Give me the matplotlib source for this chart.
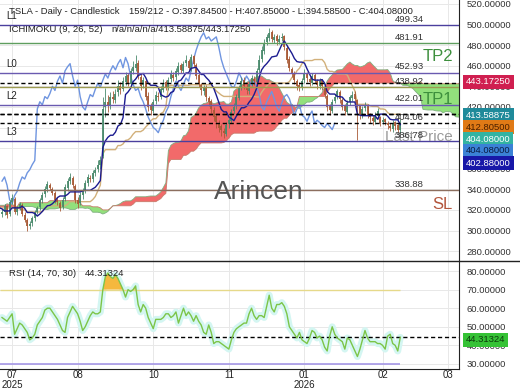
import matplotlib
matplotlib.use("Agg")

import matplotlib.pyplot as plt
import numpy as np
from matplotlib.lines import Line2D
from matplotlib.ticker import FormatStrFormatter

plt.rcParams["font.family"] = ["Liberation Sans", "DejaVu Sans"]

# Price history before the visible window (only needed for the cloud)

pre_high = [
    330, 336, 334, 328, 322, 316, 310, 306, 312, 320,
    328, 334, 340, 345, 342, 336, 330, 324, 318, 312,
    318, 326, 332, 338, 336, 330,
    334, 340, 346, 350, 354, 356, 352, 346, 340, 334,
    330, 336, 342, 346, 344, 338, 332, 326, 322, 318,
    322, 328, 334, 338, 336, 332,
    330, 326, 322, 318, 324, 330, 336, 340, 338, 334,
    328, 322, 318, 314, 320, 326, 332, 336, 334, 330,
    326, 322, 326, 330, 326, 322]

pre_low = [
    318, 322, 322, 314, 308, 300, 294, 290, 298, 306,
    314, 320, 326, 330, 328, 322, 316, 310, 304, 298,
    304, 312, 318, 324, 322, 316,
    320, 326, 332, 336, 340, 342, 338, 332, 326, 320,
    316, 322, 328, 332, 330, 324, 318, 312, 306, 302,
    308, 314, 320, 324, 322, 318,
    316, 312, 308, 305, 310, 316, 322, 326, 324, 320,
    314, 308, 305, 304, 306, 312, 318, 322, 320, 316,
    312, 308, 312, 316, 312, 309]

# Visible daily candles

opens = [
    316, 318, 324, 316, 328, 331, 318, 322, 325, 315,
    310, 304, 307, 312, 318, 323, 330, 335, 340, 344,
    340, 336, 330, 327, 323, 331, 341, 348, 351, 343,
    330, 327, 334, 339, 346, 351, 350, 356, 360, 364,
    372, 420, 425, 421, 430, 427, 434, 440, 437, 444,
    451, 442, 455, 458, 463, 449, 441, 445, 431, 421,
    416, 426, 431, 430, 436, 444, 438, 447, 451, 449,
    454, 461, 455, 463, 465, 457, 469, 461, 451, 441,
    435, 439, 429, 426, 417, 411, 404, 401, 397, 394,
    403, 406, 416, 421, 429, 439, 446, 439, 435, 443,
    447, 444, 456, 467, 474, 483, 487, 493, 485, 489,
    483, 487, 489, 477, 467, 457, 453, 445, 441, 438,
    446, 452, 447, 443, 451, 445, 440, 446, 439, 431,
    421, 416, 426, 431, 434, 427, 421, 415, 425, 429,
    433, 427, 421, 411, 419, 421, 411, 409, 405, 411,
    410, 405, 408, 404, 401, 399, 405, 402, 397.845]

highs = [
    321, 326, 325, 330, 335, 333, 324, 328, 327, 318,
    312, 309, 314, 320, 324, 332, 337, 343, 348, 346,
    342, 338, 333, 329, 333, 345, 351, 356, 353, 345,
    333, 337, 341, 349, 355, 354, 359, 362, 368, 372,
    430, 438, 432, 434, 435, 437, 446, 444, 449, 454,
    453, 458, 465, 470, 466, 452, 449, 447, 434, 424,
    428, 435, 434, 440, 447, 446, 449, 456, 454, 458,
    464, 463, 465, 470, 467, 471, 470, 463, 453, 443,
    441, 441, 431, 428, 420, 413, 407, 403, 400, 405,
    410, 418, 424, 433, 441, 449, 449, 442, 445, 451,
    450, 458, 470, 479, 486, 491, 497, 495, 491, 491,
    490, 492, 490, 479, 469, 459, 455, 447, 444, 448,
    457, 454, 449, 453, 453, 447, 448, 447, 441, 433,
    423, 428, 433, 437.6, 436, 429, 423, 427, 432, 435,
    435, 428, 422, 421, 425, 423, 414, 412, 415, 419,
    411, 410, 409, 406, 404, 407, 406, 404, 407.85]

lows = [
    313, 315, 312, 314, 326, 316, 315, 320, 314, 308,
    300, 301, 304, 309, 316, 320, 327, 333, 337, 339,
    334, 327, 325, 319, 321, 329, 338, 345, 341, 327,
    322, 325, 331, 336, 343, 347, 347, 353, 357, 360,
    370, 410, 415, 418, 424, 424, 431, 433, 435, 441,
    440, 440, 452, 455, 447, 436, 438, 427, 416, 412,
    414, 423, 426, 428, 434, 436, 436, 444, 445, 446,
    451, 453, 453, 460, 455, 455, 459, 447, 439, 432,
    432, 426, 421, 414, 406, 400, 396, 392, 389.35, 392,
    400, 404, 413, 418, 427, 436, 437, 433, 433, 440,
    441, 442, 453, 464, 471, 480, 484, 483, 482, 480,
    481, 484, 475, 463, 455, 449, 442, 436, 435, 436,
    443, 444, 440, 441, 443, 437, 437, 436, 429, 416,
    412, 414, 424, 428, 424, 417, 412, 413, 422, 426,
    424, 388, 408, 409, 416, 409, 404, 402, 403, 408,
    401, 403, 402, 399, 397, 396, 398, 396, 394.585]

closes = [
    318, 324, 315, 328, 332, 318, 322, 326, 316, 310,
    304, 306, 312, 318, 322, 330, 334, 340, 345, 341,
    336, 330, 328, 322, 330, 342, 348, 352, 344, 330,
    326, 334, 338, 346, 352, 350, 356, 359, 364, 368,
    418, 425, 422, 430, 428, 433, 440, 436, 445, 450,
    443, 455, 459, 462, 450, 440, 446, 430, 420, 417,
    425, 432, 430, 437, 443, 439, 446, 452, 448, 455,
    460, 456, 462, 466, 458, 468, 462, 450, 442, 436,
    438, 430, 425, 418, 410, 405, 400, 398, 395, 402,
    407, 415, 420, 430, 438, 445, 440, 436, 442, 448,
    445, 455, 466, 475, 482, 488, 492, 486, 488, 484,
    486, 488, 478, 466, 458, 452, 446, 440, 439, 445,
    453, 448, 444, 450, 446, 441, 445, 440, 432, 420,
    417, 425, 430, 435, 428, 420, 416, 424, 430, 432,
    428, 420, 412, 418, 422, 412, 410, 406, 412, 416,
    404, 407, 405, 402, 400, 404, 401, 398, 404.08]

rsi = [
    55, 54, 53, 55, 57, 46, 49, 52, 51, 49,
    47, 43, 44, 46, 51, 53, 55, 59, 60, 60,
    58, 56, 54, 51, 48, 47, 55, 58, 61, 59,
    57, 53, 48, 50, 53, 56, 58, 57, 57, 58,
    70, 77, 79, 77, 76, 78, 76, 73, 70, 66,
    70, 69, 70, 72, 62, 58, 62, 60, 55, 52,
    49, 54, 54, 54, 55, 57, 57, 55, 56, 58,
    52, 56, 60, 56, 58, 56, 53, 56, 53, 51,
    47, 46, 51, 47, 41, 42, 42, 41, 40, 39,
    38, 43, 47, 49, 50, 51, 52, 52, 57, 60,
    56, 54, 56, 56, 55, 61, 67, 60, 58, 62,
    62, 63, 61, 57, 50, 48, 46, 44, 47, 43,
    42, 41, 44, 48, 47, 44, 45, 43, 39, 37,
    45, 50, 46, 44, 43, 42, 38, 44, 43, 40,
    37, 34, 38, 43, 48, 44, 42, 42, 42, 41,
    41, 40, 38, 45, 46, 41, 40, 37, 44.31324]

month_bars = [4, 30, 60, 90, 120, 151, 177]
month_labels = ["07\n2025", "08", "10", "11", "01\n2026", "02", "03"]

level_prices = [499.34, 481.91, 452.93, 438.92, 422.01, 386.78, 338.88]
level_colors = ["#4b3f9e", "#5e9e5e", "#6a5ab0", "#9c9a50",
                "#6a5ab0", "#4b3f9e", "#8c6e5e"]
level_tags = ["L1", "", "L0", "", "L2", "L3", ""]

current_lines = [443.1725, 413.58875, 412.805, 404.06]

value_tags = ["443.17250", "413.58875", "412.80500",
              "404.08000", "404.08000", "402.88000"]
tag_bg = ["#d01f50", "#1f8a9a", "#e07a16", "#33b3a2", "#3b82d6", "#1818a8"]
tag_fg = ["white", "white", "#4a2000", "white", "#0b1d44", "white"]

rsi_last = 44.31324

W, H = 520, 390


def fx(px):
    return px / W


def fy(py):
    return 1 - py / H


fig = plt.figure(figsize=(5.2, 3.9), dpi=100)

ax = fig.add_axes([0, fy(261), fx(459), fy(0) - fy(261)])
ax2 = fig.add_axes([0, fy(369), fx(459), fy(261) - fy(369)])

o = np.array(opens, float)
h = np.array(highs, float)
l = np.array(lows, float)
c = np.array(closes, float)
x = np.arange(len(c))

# Ichimoku (9, 26, 52)

all_high = np.array(pre_high + highs, float)
all_low = np.array(pre_low + lows, float)
n_pre = len(pre_high)
x_all = np.arange(len(all_high)) - n_pre


def midpoint(period):
    out = np.full(len(all_high), np.nan)
    for i in range(period - 1, len(all_high)):
        out[i] = (all_high[i - period + 1:i + 1].max()
                  + all_low[i - period + 1:i + 1].min()) / 2
    return out


tenkan = midpoint(9)
kijun = midpoint(26)
span_a = (tenkan + kijun) / 2
span_b = midpoint(52)
x_span = x_all + 26

ok = ~np.isnan(span_a) & ~np.isnan(span_b)

ax.fill_between(x_span[ok], span_a[ok], span_b[ok],
                where=span_a[ok] >= span_b[ok], interpolate=True,
                color="#f26a6a", lw=0, zorder=1)
ax.fill_between(x_span[ok], span_a[ok], span_b[ok],
                where=span_a[ok] < span_b[ok], interpolate=True,
                color="#92e07c", lw=0, zorder=1)
ax.plot(x_span, span_a, color="#7fb07f", lw=0.6, zorder=2)
ax.plot(x_span, span_b, color="#c87a6a", lw=0.6, zorder=2)

vis = x_all >= -1
ax.plot(x_all[vis], kijun[vis], color="#d2b07a", lw=1, zorder=3)
ax.plot(x[26:] - 26, c[26:], color="#6f95e0", lw=1, zorder=3)

# Candles

up = c >= o
col = np.where(up, "#4a8a6c", "#a85a36")
ax.vlines(x, l, h, colors=col, lw=0.6, zorder=4)
ax.vlines(x, np.minimum(o, c), np.maximum(o, c), colors=col, lw=1.3, zorder=4)

ax.plot(x_all[vis], tenkan[vis], color="#1b1b8f", lw=1, zorder=5)

# Levels

ytr = ax.get_yaxis_transform()

for price, color, tag in zip(level_prices, level_colors, level_tags):
    ax.axhline(price, color=color, lw=1, zorder=6)
    ax.text(395 / 459, price + 1.5, f"{price:.2f}", transform=ytr,
            fontsize=6.8, color="#333333", va="bottom", zorder=8)
    if tag:
        ax.text(6 / 459, price + 4, tag, transform=ytr,
                fontsize=7, color="#222222", va="bottom", zorder=8)

for price in current_lines:
    ax.axhline(price, color="black", lw=1, ls=(0, (3, 2)), zorder=6)

ax.text(395 / 459, 404.06 + 1.5, "404.06", transform=ytr,
        fontsize=6.8, color="#333333", va="bottom", zorder=8)

ax.text(453 / 459, 469, "TP2", transform=ytr, fontsize=12,
        color="#3d8f3d", ha="right", va="center", zorder=8)
ax.text(453 / 459, 427.5, "TP1", transform=ytr, fontsize=12,
        color="#3d8f3d", ha="right", va="center", zorder=8)
ax.text(453 / 459, 390.5, "Last Price", transform=ytr, fontsize=11,
        color="#9a9a9a", ha="right", va="center", zorder=7)
ax.text(453 / 459, 325, "SL", transform=ytr, fontsize=12,
        color="#b3553c", ha="right", va="center", zorder=8)
ax.text(259 / 459, 337, "Arincen", transform=ytr, fontsize=19,
        color="#555555", ha="center", va="center", zorder=7)

ax.set_xlim(-0.8, 181.3)
ax.set_ylim(270.4, 523.8)
ax.set_xticks(month_bars)
ax.tick_params(axis="x", length=0, labelbottom=False)
ax.yaxis.tick_right()
ax.set_yticks(np.arange(280, 521, 20))
ax.yaxis.set_major_formatter(FormatStrFormatter("%.5f"))
ax.tick_params(axis="y", length=0, pad=5.5, labelsize=6.8, labelcolor="#333333")
ax.grid(True, color="#e8e8e8", lw=0.7)
ax.set_axisbelow(True)
for s in ["left", "top", "bottom"]:
    ax.spines[s].set_visible(False)
ax.spines["right"].set_color("#222222")

# RSI

r = np.array(rsi, float)
ax2.plot(x, r, color="#d4f6f2", lw=5, zorder=2, solid_capstyle="round")
ax2.fill_between(x, r, 70, where=r > 70, interpolate=True,
                 color="#f5b83e", lw=0, zorder=3)
ax2.hlines(70, -0.8, x[-1], color="#e6d98a", lw=1, zorder=3)
ax2.hlines(30, -0.8, x[-1], color="#a597e6", lw=1.2, zorder=3)
ax2.axhline(rsi_last, color="black", lw=1, ls=(0, (3, 2)), zorder=4)
ax2.plot(x, r, color="#7cc548", lw=1, zorder=5)

ax2.set_xlim(-0.8, 181.3)
ax2.set_ylim(27.3, 85.4)
ax2.set_xticks(month_bars)
ax2.set_xticklabels(month_labels, linespacing=0.95)
ax2.tick_params(axis="x", length=0, pad=1, labelsize=7, labelcolor="#222222")
ax2.yaxis.tick_right()
ax2.set_yticks(np.arange(30, 81, 10))
ax2.yaxis.set_major_formatter(FormatStrFormatter("%.5f"))
ax2.tick_params(axis="y", length=0, pad=5.5, labelsize=6.8, labelcolor="#333333")
ax2.grid(True, color="#e8e8e8", lw=0.7)
ax2.set_axisbelow(True)
ax2.spines["left"].set_visible(False)
ax2.spines["top"].set_visible(False)
ax2.spines["right"].set_color("#222222")
ax2.spines["bottom"].set_color("#222222")

fig.add_artist(Line2D([0, 1], [fy(261), fy(261)], color="#222222", lw=1))

# Header texts

fig.text(fx(9), fy(12), "TSLA - Daily - Candlestick", fontsize=6.8,
         color="#222222", va="center")
fig.text(fx(129), fy(12),
         "159/212 - O:397.84500 - H:407.85000 - L:394.58500 - C:404.08000",
         fontsize=6.8, color="#222222", va="center")
fig.text(fx(9), fy(30), "ICHIMOKU (9, 26, 52)", fontsize=6.8,
         color="#222222", va="center")
fig.text(fx(111), fy(30), "n/a/n/a/n/a/413.58875/443.17250", fontsize=6.8,
         color="#222222", va="center")
fig.text(fx(9), fy(273), "RSI (14, 70, 30)", fontsize=6.8,
         color="#222222", va="center")
fig.text(fx(85), fy(273), f"{rsi_last:.5f}", fontsize=6.8,
         color="#222222", va="center")

# Value tags on the right

for k, (txt, bg, fg) in enumerate(zip(value_tags, tag_bg, tag_fg)):
    ypx = 82 if k == 0 else 115 + 12 * (k - 1)
    fig.text(fx(466), fy(ypx), txt, fontsize=6.8, color=fg, va="center",
             bbox=dict(boxstyle="square,pad=0.3", fc=bg, ec="none"))

fig.text(fx(466), fy(340), f"{rsi_last:.5f}", fontsize=6.8, color="#0b3b0b",
         va="center", bbox=dict(boxstyle="square,pad=0.3", fc="#35c235", ec="none"))

fig.savefig("out.png", dpi=100)
